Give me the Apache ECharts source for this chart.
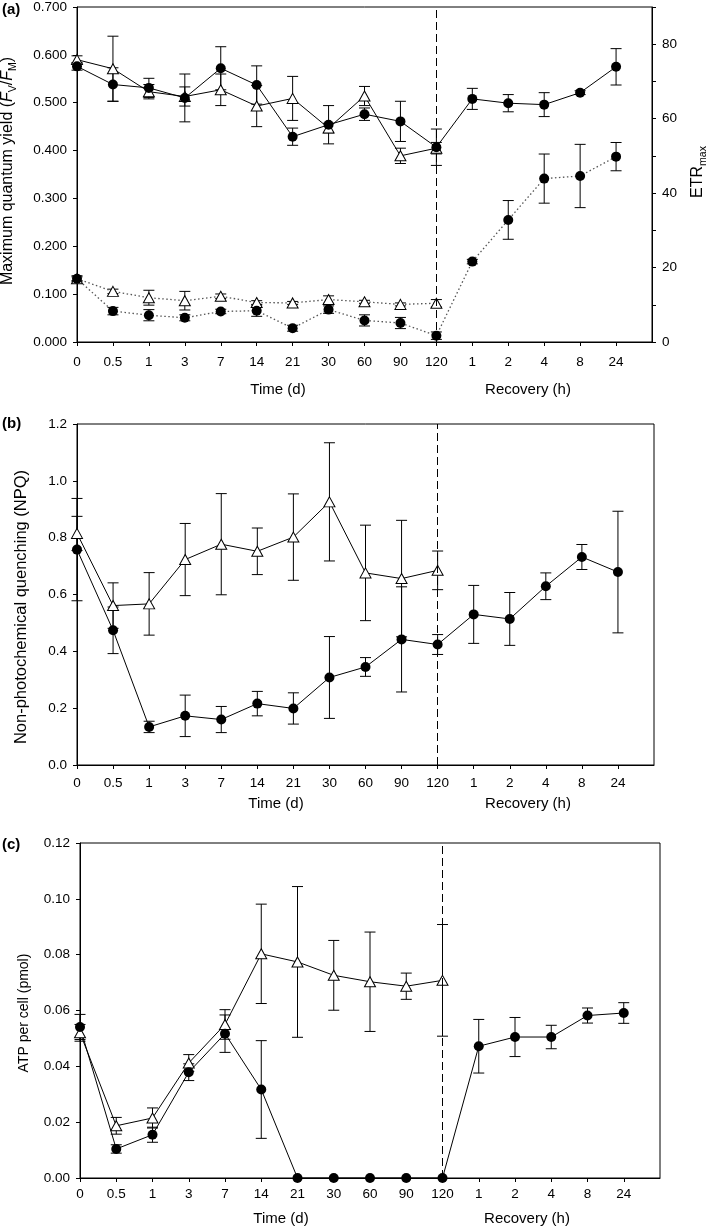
<!DOCTYPE html>
<html>
<head>
<meta charset="utf-8">
<script src="https://cdn.jsdelivr.net/npm/echarts@6/dist/echarts.min.js"></script>
<style>
html,body{margin:0;padding:0;background:#fff;}
#chart{width:709px;height:1227px;}
</style>
</head>
<body>
<div id="chart"></div>
<script>
// ---------- data ----------
const timeLabels = ['0','0.5','1','3','7','14','21','30','60','90','120'];
const recoveryLabels = ['1','2','4','8','24'];

// (a) Fv/Fm (left axis, solid lines)
const fvfmCircle      = [0.576,0.538,0.531,0.510,0.572,0.537,0.429,0.454,0.476,0.461,0.407,0.508,0.499,0.496,0.521,0.575];
const fvfmCircleErr   = [0.008,0.035,0.020,0.050,0.045,0.040,0.018,0.040,0.013,0.042,0.038,0.022,0.018,0.025,0.004,0.038];
const fvfmTriangle    = [0.590,0.571,0.523,0.513,0.527,0.493,0.509,0.447,0.514,0.389,0.405];
const fvfmTriangleErr = [0.008,0.068,0.015,0.020,0.033,0.043,0.046,0.010,0.020,0.016,0.012];
// (a) ETRmax (right axis, dotted lines)
const etrCircle       = [17.0,8.3,7.2,6.5,8.2,8.4,3.7,8.7,5.8,5.1,1.7,21.6,32.8,43.9,44.6,49.8];
const etrCircleErr    = [0.8,1.0,1.5,0.8,0.6,1.5,0.8,1.0,1.5,1.5,1.0,0.6,5.2,6.6,8.5,3.8];
const etrTriangle     = [17.0,13.6,11.9,11.1,12.3,10.6,10.5,11.4,10.8,10.1,10.4];
const etrTriangleErr  = [0.5,0.6,2.0,2.5,0.6,0.5,0.4,1.0,0.4,0.4,1.0];
// (b) NPQ
const npqCircle       = [0.758,0.474,0.134,0.173,0.160,0.216,0.199,0.308,0.345,0.442,0.424,0.530,0.514,0.629,0.732,0.679];
const npqCircleErr    = [0.180,0.082,0.020,0.073,0.046,0.043,0.055,0.144,0.033,0.185,0.035,0.102,0.093,0.047,0.044,0.214];
const npqTriangle     = [0.815,0.561,0.567,0.723,0.777,0.752,0.802,0.926,0.676,0.656,0.685];
const npqTriangleErr  = [0.060,0.080,0.110,0.127,0.178,0.082,0.152,0.208,0.168,0.205,0.068];
// (c) ATP per cell
const atpCircle       = [0.0541,0.0104,0.0155,0.0379,0.0517,0.0317,0,0,0,0,0,0.0472,0.0505,0.0505,0.0582,0.0591];
const atpCircleErr    = [0.0045,0.0015,0.0027,0.0030,0.0067,0.0175,0,0,0,0,0,0.0096,0.0070,0.0042,0.0027,0.0037];
const atpTriangle     = [0.0520,0.0187,0.0215,0.0412,0.0550,0.0803,0.0774,0.0726,0.0703,0.0687,0.0708];
const atpTriangleErr  = [0.0030,0.0030,0.0036,0.0030,0.0053,0.0178,0.0270,0.0125,0.0178,0.0047,0.0200];

const xCats = timeLabels.concat(recoveryLabels, ['']);
const dividerIndex = timeLabels.length - 1;

// ---------- helpers ----------
const FONT = '"Liberation Sans", Arial, sans-serif';
const BLACK = '#000';

function errData(vals, errs){ return vals.map((v,i)=>[i, v, errs[i]]); }

function errRender(params, api){
  const x = api.value(0), v = api.value(1), e = api.value(2);
  if (!e) return null;
  const t = api.coord([x, v + e]);
  const b = api.coord([x, v - e]);
  const hw = 5.5;
  const st = {stroke: BLACK, lineWidth: 1};
  return {type:'group', children:[
    {type:'line', shape:{x1:t[0], y1:t[1], x2:b[0], y2:b[1]}, style:st},
    {type:'line', shape:{x1:t[0]-hw, y1:t[1], x2:t[0]+hw, y2:t[1]}, style:st},
    {type:'line', shape:{x1:b[0]-hw, y1:b[1], x2:b[0]+hw, y2:b[1]}, style:st}
  ]};
}

function errSeries(xi, yi, vals, errs){
  return {type:'custom', xAxisIndex:xi, yAxisIndex:yi, renderItem:errRender,
    data: errData(vals, errs), encode:{x:0, y:1}, z:2, silent:true, clip:false};
}

function lineSeries(xi, yi, vals, kind, dotted, withDivider){
  const s = {
    type:'line', xAxisIndex:xi, yAxisIndex:yi, data: vals,
    showAllSymbol:true, symbol: kind === 'circle' ? 'circle' : 'triangle',
    symbolSize: kind === 'circle' ? 10 : [11,10],
    itemStyle: kind === 'circle' ? {color:BLACK, borderColor:BLACK, borderWidth:0}
                                 : {color:'#fff', borderColor:BLACK, borderWidth:1},
    lineStyle: dotted ? {color:'#555', width:1.3, type:[1.5,2.5]} : {color:BLACK, width:1},
    z: 3, silent:true
  };
  if (withDivider){
    s.markLine = {silent:true, symbol:'none', animation:false,
      label:{show:false},
      lineStyle:{color:BLACK, width:1, type:[8,4]},
      data:[{xAxis: dividerIndex}]};
  }
  return s;
}

function xAxis(gi, margin){
  return {type:'category', gridIndex:gi, data:xCats, boundaryGap:false,
    axisLine:{lineStyle:{color:BLACK, width:1}},
    axisTick:{inside:false, length:4, lineStyle:{color:BLACK}, interval:function(i){ return i < xCats.length - 1; }},
    axisLabel:{interval:0, color:BLACK, fontSize:13.5, fontFamily:FONT, margin:margin},
    splitLine:{show:false}};
}

function yAxis(gi, min, max, interval, fmt, extra){
  const a = {type:'value', gridIndex:gi, min:min, max:max, interval:interval,
    axisLine:{show:true, lineStyle:{color:BLACK, width:1}},
    axisTick:{show:true, inside:false, length:4, lineStyle:{color:BLACK}},
    axisLabel:{color:BLACK, fontSize:13.5, fontFamily:FONT, margin:10, formatter:fmt},
    splitLine:{show:false}};
  return Object.assign(a, extra || {});
}

const gridBox = {show:true, borderColor:BLACK, borderWidth:1, backgroundColor:'transparent'};

function hText(text, x, y, size){
  return {type:'text', x:x, y:y, silent:true,
    style:{text:text, fontSize:size, fontFamily:FONT, fill:BLACK, align:'center', verticalAlign:'middle'}};
}
function vText(text, x, y, size, rich){
  return {type:'text', x:x, y:y, rotation:Math.PI/2, silent:true,
    style:{text:text, fontSize:size, fontFamily:FONT, fill:BLACK, lineHeight:22,
      align:'center', verticalAlign:'middle', rich:rich || {}}};
}
const subRich = {
  i:{fontStyle:'italic', fontSize:16, fontFamily:FONT, fill:BLACK, lineHeight:22},
  s:{fontSize:10.5, fontFamily:FONT, fill:BLACK, verticalAlign:'bottom', lineHeight:12}
};

const option = {
  animation:false,
  backgroundColor:'#fff',
  grid:[
    Object.assign({left:77, top:5, width:575, height:337}, gridBox),
    Object.assign({left:77, top:424, width:577, height:341}, gridBox),
    Object.assign({left:80, top:843, width:580, height:335}, gridBox)
  ],
  xAxis:[xAxis(0, 13), xAxis(1, 11), xAxis(2, 9)],
  yAxis:[
    yAxis(0, 0, 0.7, 0.1, v => v.toFixed(3)),
    yAxis(0, 0, 90, 10, v => (v % 20 === 0 ? String(v) : ''), {position:'right'}),
    yAxis(1, 0, 1.2, 0.2, v => v.toFixed(1)),
    yAxis(2, 0, 0.12, 0.02, v => v.toFixed(2))
  ],
  series:[
    // panel a
    errSeries(0,1,etrCircle,etrCircleErr),
    errSeries(0,1,etrTriangle,etrTriangleErr),
    lineSeries(0,1,etrTriangle,'triangle',true,false),
    lineSeries(0,1,etrCircle,'circle',true,false),
    errSeries(0,0,fvfmCircle,fvfmCircleErr),
    errSeries(0,0,fvfmTriangle,fvfmTriangleErr),
    lineSeries(0,0,fvfmTriangle,'triangle',false,false),
    lineSeries(0,0,fvfmCircle,'circle',false,true),
    // panel b
    errSeries(1,2,npqCircle,npqCircleErr),
    errSeries(1,2,npqTriangle,npqTriangleErr),
    lineSeries(1,2,npqTriangle,'triangle',false,false),
    lineSeries(1,2,npqCircle,'circle',false,true),
    // panel c
    errSeries(2,3,atpCircle,atpCircleErr),
    errSeries(2,3,atpTriangle,atpTriangleErr),
    lineSeries(2,3,atpTriangle,'triangle',false,false),
    lineSeries(2,3,atpCircle,'circle',false,true)
  ],
  graphic:[
    {type:'text', x:2, y:10, style:{text:'(a)', font:'bold 15px '+FONT, fill:BLACK, verticalAlign:'middle'}},
    {type:'text', x:2, y:424, style:{text:'(b)', font:'bold 15px '+FONT, fill:BLACK, verticalAlign:'middle'}},
    {type:'text', x:2, y:845, style:{text:'(c)', font:'bold 15px '+FONT, fill:BLACK, verticalAlign:'middle'}},
    hText('Time (d)', 278, 390, 15),
    hText('Recovery (h)', 528, 390, 15),
    hText('Time (d)', 276, 804, 15),
    hText('Recovery (h)', 528, 804, 15),
    hText('Time (d)', 281, 1219, 15),
    hText('Recovery (h)', 527, 1219, 15),
    vText('Maximum quantum yield ({i|F}{s|V}/{i|F}{s|M})', 8, 171, 16, subRich),
    vText('ETR{s|max}', 698, 172, 16, subRich),
    vText('Non-photochemical quenching (NPQ)', 21, 607, 16.5),
    vText('ATP per cell (pmol)', 24, 1013, 14)
  ]
};

const chart = echarts.init(document.getElementById('chart'), null, {renderer:'canvas'});
chart.setOption(option);
</script>
</body>
</html>
